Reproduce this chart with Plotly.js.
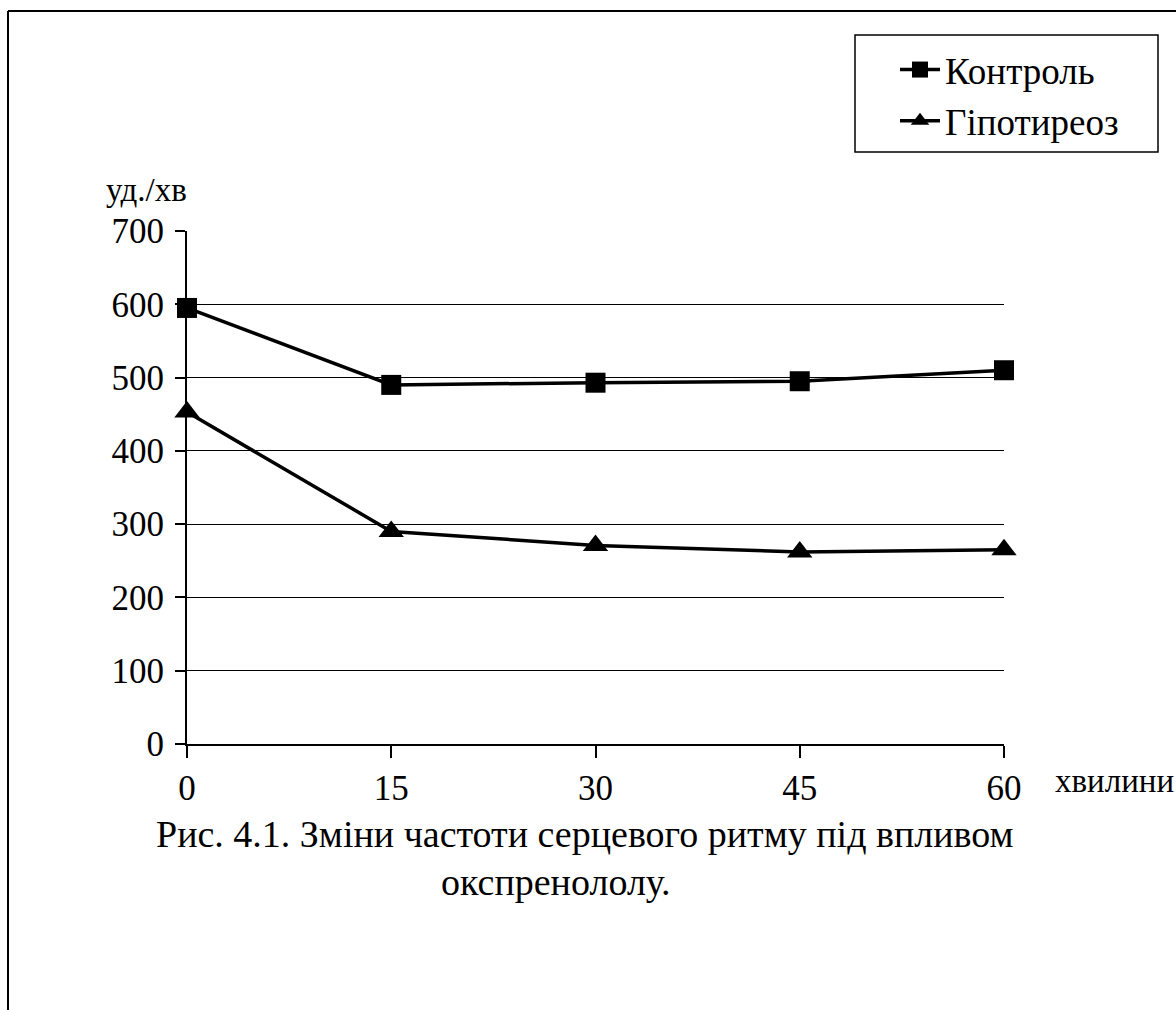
<!DOCTYPE html>
<html>
<head>
<meta charset="utf-8">
<script src="https://cdn.plot.ly/plotly-3.0.1.min.js"></script>
<style>
html,body{margin:0;padding:0;background:#fff;}
#chart{width:1176px;height:1010px;}
</style>
</head>
<body>
<div id="chart"></div>
<script>
const minutes = [0, 15, 30, 45, 60];
const kontrol = [595, 490, 493, 495, 510];
const hipotyreoz = [453, 290, 271, 262, 265];
const yTicks = [0, 100, 200, 300, 400, 500, 600, 700];
const seriesNames = ['Контроль', 'Гіпотиреоз'];
const yUnit = 'уд./хв';
const xUnit = 'хвилини';
const captionLine1 = 'Рис. 4.1. Зміни частоти серцевого ритму під впливом';
const captionLine2 = 'окспренололу.';

const W = 1176, H = 1010;
const L = 187, R = 1004, T = 231, B = 744;
const px = v => (v - L) / (R - L);
const py = v => (B - v) / (B - T);
const FONT = '"Liberation Serif", "Times New Roman", serif';

const traces = [
  {x: minutes, y: kontrol, name: seriesNames[0], type: 'scatter', mode: 'lines+markers',
   line: {color: '#000', width: 3.5}, marker: {symbol: 'square', size: 20, color: '#000'}, cliponaxis: false},
  {x: minutes, y: hipotyreoz, name: seriesNames[1], type: 'scatter', mode: 'lines+markers',
   line: {color: '#000', width: 3.5}, marker: {symbol: 'triangle-up', size: 22, color: '#000'}, cliponaxis: false}
];

const layout = {
  width: W, height: H,
  margin: {l: L, r: W - R, t: T, b: H - B, pad: 0},
  paper_bgcolor: '#fff', plot_bgcolor: '#fff',
  font: {family: FONT, size: 34, color: '#000'},
  showlegend: true,
  legend: {x: px(895), xanchor: 'left', y: py(39), yanchor: 'top',
           borderwidth: 0, bgcolor: 'rgba(0,0,0,0)',
           font: {family: FONT, size: 37, color: '#000'}, tracegroupgap: 0, itemwidth: 40},
  xaxis: {range: [0, 60], tickvals: minutes, ticktext: minutes.map(String),
          showgrid: false, zeroline: false, showline: true, linecolor: '#000', linewidth: 2,
          ticks: 'outside', ticklen: 12, tickwidth: 2, tickcolor: '#000',
          ticklabelstandoff: 0, tickfont: {family: FONT, size: 35, color: '#000'}, fixedrange: true},
  yaxis: {range: [0, 700], tickvals: yTicks, ticktext: yTicks.map(String),
          showgrid: true, gridcolor: '#000', gridwidth: 1, zeroline: false,
          showline: true, linecolor: '#000', linewidth: 2,
          ticks: 'outside', ticklen: 10, tickwidth: 2, tickcolor: '#000',
          ticklabelstandoff: 4, tickfont: {family: FONT, size: 35, color: '#000'}, fixedrange: true},
  annotations: [
    {xref: 'paper', yref: 'paper', x: px(104), y: py(190), xanchor: 'left', yanchor: 'middle',
     text: yUnit, showarrow: false, font: {family: FONT, size: 33, color: '#000'}},
    {xref: 'paper', yref: 'paper', x: px(1053), y: py(781), xanchor: 'left', yanchor: 'middle',
     text: xUnit, showarrow: false, font: {family: FONT, size: 33, color: '#000'}},
    {xref: 'paper', yref: 'paper', x: px(585), y: py(834), xanchor: 'center', yanchor: 'middle',
     text: captionLine1, showarrow: false, font: {family: FONT, size: 38, color: '#000'}},
    {xref: 'paper', yref: 'paper', x: px(556), y: py(882), xanchor: 'center', yanchor: 'middle',
     text: captionLine2, showarrow: false, font: {family: FONT, size: 38, color: '#000'}}
  ],
  shapes: [
    {type: 'line', xref: 'paper', yref: 'paper', x0: px(8), x1: px(8), y0: py(11), y1: py(1012),
     line: {color: '#000', width: 2}},
    {type: 'line', xref: 'paper', yref: 'paper', x0: px(8), x1: px(1178), y0: py(11), y1: py(11),
     line: {color: '#000', width: 2}},
    {type: 'rect', xref: 'paper', yref: 'paper', x0: px(855), x1: px(1158), y0: py(35), y1: py(152),
     line: {color: '#000', width: 1.5}, fillcolor: 'rgba(0,0,0,0)', layer: 'below'}
  ]
};

Plotly.newPlot('chart', traces, layout, {displayModeBar: false, staticPlot: true});
</script>
</body>
</html>
